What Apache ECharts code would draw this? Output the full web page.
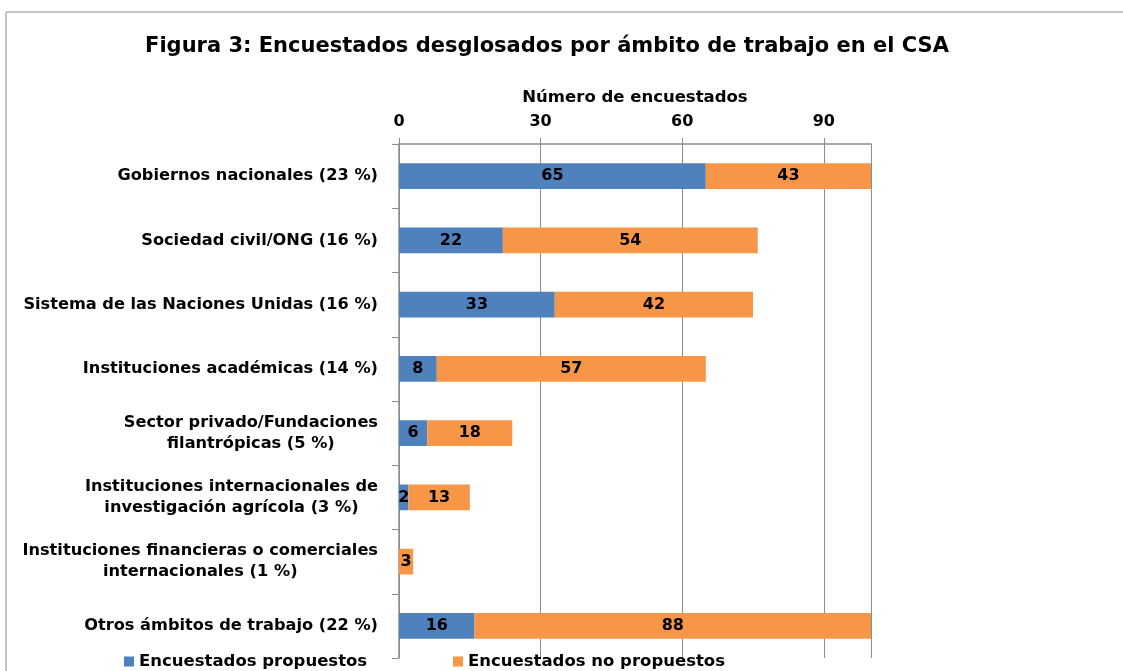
<!DOCTYPE html>
<html><head><meta charset="utf-8">
<script src="https://cdn.jsdelivr.net/npm/echarts@6/dist/echarts.min.js"></script>
<style>html,body{margin:0;padding:0;background:#fff}#c{width:1123px;height:671px}</style>
</head><body><div id="c"></div>
<script>
const categories = [
  'Gobiernos nacionales (23 %)',
  'Sociedad civil/ONG (16 %)',
  'Sistema de las Naciones Unidas (16 %)',
  'Instituciones académicas (14 %)',
  'Sector privado/Fundaciones\nfilantrópicas (5 %)',
  'Instituciones internacionales de\ninvestigación agrícola (3 %)',
  'Instituciones financieras o comerciales\ninternacionales (1 %)',
  'Otros ámbitos de trabajo (22 %)'
];
const propuestos = [65, 22, 33, 8, 6, 2, 0, 16];
const noPropuestos = [43, 54, 42, 57, 18, 13, 3, 88];
const xTicks = [0, 30, 60, 90];
const seriesNames = ['Encuestados propuestos', 'Encuestados no propuestos'];

const FONT = '"DejaVu Sans", sans-serif';
const LBL_SIZE = 16.2;
const ctx = document.createElement('canvas').getContext('2d');
ctx.font = 'bold ' + LBL_SIZE + 'px ' + FONT;
const rich = {};
const labelMap = {};
categories.forEach((c, i) => {
  const lines = c.split('\n');
  const w = Math.max(...lines.map(l => ctx.measureText(l).width)) + 2;
  rich['r' + i] = {width: w, align: 'center', fontFamily: FONT, fontWeight: 'bold', fontSize: LBL_SIZE, lineHeight: 21, color: '#000'};
  labelMap[c] = lines.map(l => '{r' + i + '|' + l + '}').join('\n');
});

const chart = echarts.init(document.getElementById('c'));
const labelStyle = {show: true, position: 'inside', color: '#000', fontFamily: FONT, fontWeight: 'bold', fontSize: 16,
  formatter: p => p.value > 0 ? String(p.value) : ''};
chart.setOption({
  animation: false,
  backgroundColor: '#fff',
  title: {text: 'Figura 3: Encuestados desglosados por ámbito de trabajo en el CSA', left: 542, textAlign: 'center', top: 31,
    textStyle: {fontFamily: FONT, fontWeight: 'bold', fontSize: 21, color: '#000'}},
  graphic: [{type: 'rect', shape: {x: 6, y: 12, width: 1300, height: 800}, style: {fill: 'none', stroke: '#8c8c8c', lineWidth: 1}, silent: true}],
  legend: [
    {data: [seriesNames[0]], left: 124, top: 653, padding: 0, itemWidth: 10, itemHeight: 10, icon: 'rect',
      textStyle: {fontFamily: FONT, fontWeight: 'bold', fontSize: 16.5, color: '#000'}},
    {data: [seriesNames[1]], left: 453, top: 653, padding: 0, itemWidth: 10, itemHeight: 10, icon: 'rect',
      textStyle: {fontFamily: FONT, fontWeight: 'bold', fontSize: 16.5, color: '#000'}}
  ],
  grid: {left: 399, right: 252, top: 144, bottom: 13, containLabel: false},
  xAxis: {type: 'value', position: 'top', min: 0, max: 100, interval: 30,
    name: 'Número de encuestados', nameLocation: 'middle', nameGap: 38,
    nameTextStyle: {fontFamily: FONT, fontWeight: 'bold', fontSize: 16.5, color: '#000'},
    axisLine: {show: true, lineStyle: {color: '#8c8c8c', width: 1.5}},
    axisTick: {show: true, length: 6, lineStyle: {color: '#8c8c8c'}},
    splitLine: {show: true, lineStyle: {color: '#8c8c8c', width: 1}},
    axisLabel: {margin: 14, fontFamily: FONT, fontWeight: 'bold', fontSize: 16, color: '#000',
      formatter: v => xTicks.indexOf(v) >= 0 ? String(v) : '', showMaxLabel: false}},
  yAxis: {type: 'category', data: categories, inverse: true,
    axisLine: {show: true, lineStyle: {color: '#8c8c8c', width: 1.5}},
    axisTick: {show: true, length: 7, lineStyle: {color: '#8c8c8c'}},
    axisLabel: {margin: 20, formatter: v => labelMap[v], rich: rich}},
  series: [
    {name: seriesNames[0], type: 'bar', stack: 's', data: propuestos, barWidth: '40%', clip: true,
      itemStyle: {color: '#4F81BD'}, label: labelStyle},
    {name: seriesNames[1], type: 'bar', stack: 's', data: noPropuestos, barWidth: '40%', clip: true,
      itemStyle: {color: '#F79646'}, label: labelStyle}
  ]
});
</script></body></html>
